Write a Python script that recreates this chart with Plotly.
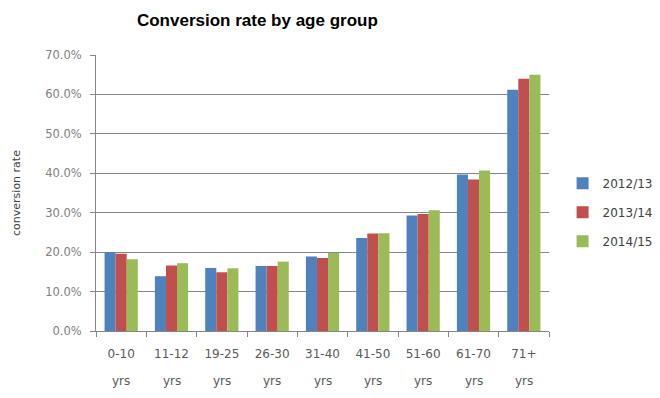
import plotly.graph_objects as go

categories = ["0-10", "11-12", "19-25", "26-30", "31-40", "41-50", "51-60", "61-70", "71+"]
tick_labels = ["0-10", "11-12", "19-25", "26-30", "31-40", "41-50", "51-60", "61-70", "71+"]
unit_label = "yrs"
series_names = ["2012/13", "2013/14", "2014/15"]
v_2012 = [0.200, 0.139, 0.160, 0.165, 0.189, 0.236, 0.293, 0.397, 0.612]
v_2013 = [0.196, 0.166, 0.149, 0.165, 0.185, 0.247, 0.297, 0.384, 0.640]
v_2014 = [0.182, 0.172, 0.159, 0.176, 0.198, 0.248, 0.306, 0.407, 0.650]
colors = ["#4F81BD", "#C0504D", "#9BBB59"]

fig = go.Figure()
for name, vals, col in zip(series_names, [v_2012, v_2013, v_2014], colors):
    fig.add_trace(go.Bar(x=categories, y=vals, name=name, marker_color=col,
                         marker_line_width=0, legendgroup=name))

for c in categories:
    fig.add_annotation(x=c, xref="x", y=-0.18, yref="paper", text=unit_label,
                       showarrow=False, yanchor="middle",
                       font=dict(family="DejaVu Sans", size=12, color="#595959"))

fig.update_layout(
    width=660, height=398,
    paper_bgcolor="white", plot_bgcolor="white",
    margin=dict(l=96, r=111, t=55, b=67, autoexpand=False),
    title=dict(text="<b>Conversion rate by age group</b>", x=0.39, xanchor="center",
               y=0.95, yanchor="middle",
               font=dict(family="Liberation Sans, Arial", size=17, color="#000000")),
    barmode="group", bargap=0.34, bargroupgap=0,
    font=dict(family="DejaVu Sans", color="#595959"),
    legend=dict(x=1.03, y=0.43, xanchor="left", yanchor="middle",
                font=dict(size=12, color="#404040"), tracegroupgap=10,
                bgcolor="rgba(0,0,0,0)"),
)
fig.update_xaxes(
    type="category", tickmode="array", tickvals=categories, ticktext=tick_labels,
    showline=True, linecolor="#868686", linewidth=1,
    ticks="outside", tickson="boundaries", ticklen=5, tickcolor="#868686",
    tickfont=dict(size=12, color="#595959"), showgrid=False,
    ticklabelstandoff=12, automargin=False,
)
fig.update_yaxes(
    range=[0, 0.70], dtick=0.10, tickformat=".1%",
    showline=True, linecolor="#868686", linewidth=1,
    ticks="outside", ticklen=5, tickcolor="#868686",
    showgrid=True, gridcolor="#868686", gridwidth=1,
    tickfont=dict(size=11.5, color="#808080"), ticklabelstandoff=6,
    title=dict(text="conversion rate", font=dict(size=11, color="#404040"), standoff=22),
    zeroline=False, automargin=False,
)

fig.write_html("out.html")
